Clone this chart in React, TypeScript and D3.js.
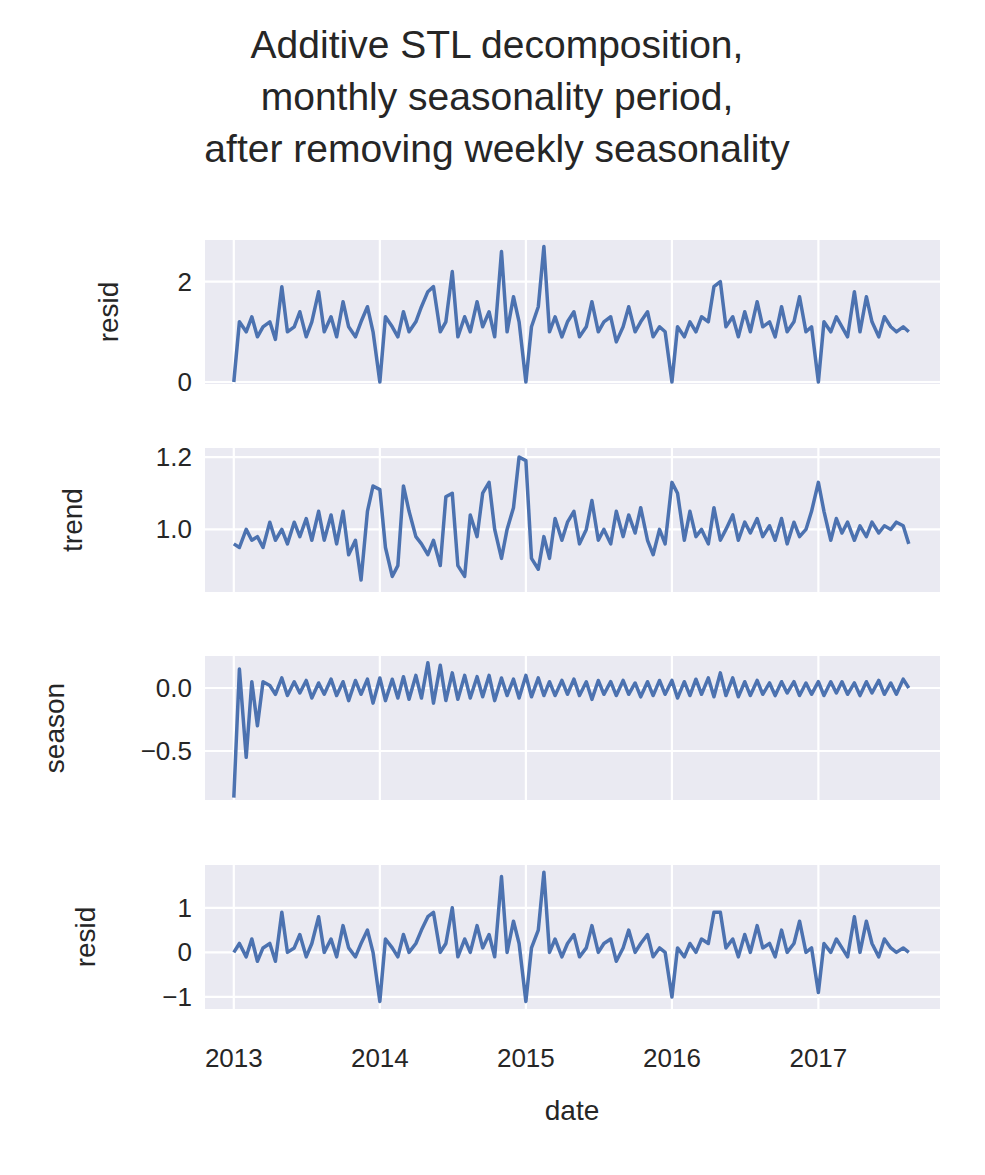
import * as d3 from 'd3';

// semi-monthly sample dates (1st and 15th) from 2013-01 to 2017-08
const dates: Date[] = d3.timeMonth
  .range(new Date(2013, 0, 1), new Date(2017, 8, 1))
  .flatMap((m) => [m, new Date(m.getFullYear(), m.getMonth(), 15)]);

const resid1 = [
  0.0, 1.2, 1.0, 1.3, 0.9, 1.1, 1.2, 0.85, 1.9, 1.0, 1.1, 1.4, 0.9, 1.2, 1.8, 1.0, 1.3, 0.9, 1.6, 1.1, 0.9, 1.2, 1.5, 1.0,
  0.0, 1.3, 1.1, 0.9, 1.4, 1.0, 1.2, 1.5, 1.8, 1.9, 1.0, 1.2, 2.2, 0.9, 1.3, 1.0, 1.6, 1.1, 1.4, 0.9, 2.6, 1.0, 1.7, 1.2,
  0.0, 1.1, 1.5, 2.7, 1.0, 1.3, 0.9, 1.2, 1.4, 0.9, 1.1, 1.6, 1.0, 1.2, 1.3, 0.8, 1.1, 1.5, 1.0, 1.2, 1.4, 0.9, 1.1, 1.0,
  0.0, 1.1, 0.9, 1.2, 1.0, 1.3, 1.2, 1.9, 2.0, 1.1, 1.3, 0.9, 1.4, 1.0, 1.6, 1.1, 1.2, 0.9, 1.5, 1.0, 1.2, 1.7, 1.0, 1.1,
  0.0, 1.2, 1.0, 1.3, 1.1, 0.9, 1.8, 1.0, 1.7, 1.2, 0.9, 1.3, 1.1, 1.0, 1.1, 1.0,
];
const trend = [
  0.96, 0.95, 1.0, 0.97, 0.98, 0.95, 1.02, 0.97, 1.0, 0.96, 1.02, 0.98, 1.03, 0.97, 1.05, 0.97, 1.04, 0.96, 1.05, 0.93, 0.97, 0.86, 1.05, 1.12,
  1.11, 0.95, 0.87, 0.9, 1.12, 1.05, 0.98, 0.96, 0.93, 0.97, 0.9, 1.09, 1.1, 0.9, 0.87, 1.04, 0.98, 1.1, 1.13, 1.0, 0.92, 1.0, 1.06, 1.2,
  1.19, 0.92, 0.89, 0.98, 0.92, 1.03, 0.97, 1.02, 1.05, 0.96, 1.0, 1.08, 0.97, 1.0, 0.96, 1.05, 0.98, 1.04, 0.99, 1.06, 0.97, 0.93, 1.0, 0.96,
  1.13, 1.1, 0.97, 1.05, 0.98, 1.0, 0.96, 1.06, 0.97, 1.0, 1.04, 0.97, 1.02, 0.99, 1.03, 0.98, 1.01, 0.97, 1.03, 0.96, 1.02, 0.98, 1.0, 1.05,
  1.13, 1.05, 0.97, 1.03, 0.99, 1.02, 0.97, 1.01, 0.98, 1.02, 0.99, 1.01, 1.0, 1.02, 1.01, 0.96,
];
const season = [
  -0.87, 0.15, -0.55, 0.05, -0.3, 0.05, 0.02, -0.05, 0.08, -0.06, 0.05, -0.04, 0.06, -0.08, 0.04, -0.05, 0.07, -0.06, 0.05, -0.1, 0.06, -0.05, 0.07, -0.12,
  0.08, -0.1, 0.07, -0.08, 0.09, -0.09, 0.1, -0.08, 0.2, -0.12, 0.18, -0.1, 0.12, -0.09, 0.1, -0.08, 0.09, -0.07, 0.1, -0.1, 0.08, -0.06, 0.07, -0.08,
  0.1, -0.07, 0.08, -0.06, 0.05, -0.06, 0.06, -0.05, 0.07, -0.06, 0.05, -0.09, 0.06, -0.05, 0.05, -0.06, 0.06, -0.05, 0.04, -0.07, 0.05, -0.06, 0.06, -0.05,
  0.06, -0.08, 0.05, -0.06, 0.07, -0.05, 0.08, -0.07, 0.12, -0.06, 0.08, -0.07, 0.05, -0.06, 0.06, -0.05, 0.04, -0.06, 0.05, -0.04, 0.05, -0.06, 0.04, -0.05,
  0.05, -0.06, 0.05, -0.04, 0.05, -0.05, 0.04, -0.06, 0.05, -0.04, 0.06, -0.05, 0.04, -0.05, 0.07, 0.0,
];
const resid2 = [
  0.0, 0.2, -0.1, 0.3, -0.2, 0.1, 0.2, -0.2, 0.9, 0.0, 0.1, 0.4, -0.1, 0.2, 0.8, 0.0, 0.3, -0.1, 0.6, 0.1, -0.1, 0.2, 0.5, 0.0,
  -1.1, 0.3, 0.1, -0.1, 0.4, 0.0, 0.2, 0.5, 0.8, 0.9, 0.0, 0.2, 1.0, -0.1, 0.3, 0.0, 0.6, 0.1, 0.4, -0.1, 1.7, 0.0, 0.7, 0.2,
  -1.1, 0.1, 0.5, 1.8, 0.0, 0.3, -0.1, 0.2, 0.4, -0.1, 0.1, 0.6, 0.0, 0.2, 0.3, -0.2, 0.1, 0.5, 0.0, 0.2, 0.4, -0.1, 0.1, 0.0,
  -1.0, 0.1, -0.1, 0.2, 0.0, 0.3, 0.2, 0.9, 0.9, 0.1, 0.3, -0.1, 0.4, 0.0, 0.6, 0.1, 0.2, -0.1, 0.5, 0.0, 0.2, 0.7, 0.0, 0.1,
  -0.9, 0.2, 0.0, 0.3, 0.1, -0.1, 0.8, 0.0, 0.7, 0.2, -0.1, 0.3, 0.1, 0.0, 0.1, 0.0,
];

const yearTicks = [2013, 2014, 2015, 2016, 2017];

const panels = [
  { label: 'resid', values: resid1, top: 240, domain: [-0.04, 2.83], ticks: [0, 2], fmt: '.0f', labelX: 118 },
  { label: 'trend', values: trend, top: 448, domain: [0.827, 1.225], ticks: [1.0, 1.2], fmt: '.1f', labelX: 82 },
  { label: 'season', values: season, top: 656, domain: [-0.889, 0.254], ticks: [-0.5, 0.0], fmt: '.1f', labelX: 64 },
  { label: 'resid', values: resid2, top: 865, domain: [-1.27, 1.96], ticks: [-1, 0, 1], fmt: '.0f', labelX: 95 },
];

const W = 985;
const H = 1175;
const left = 205;
const right = 940;
const ph = 144;
const font = '"Liberation Sans", Arial, sans-serif';
const ink = '#262626';

export default function App() {
  const x = d3.scaleTime().domain([new Date(2012, 9, 21), new Date(2017, 10, 1)]).range([left, right]);

  return (
    <svg width={W} height={H} style={{ display: 'block', margin: -8 }} fontFamily={font}>
      <rect width={W} height={H} fill="white" />
      {['Additive STL decomposition,', 'monthly seasonality period,', 'after removing weekly seasonality'].map((t, i) => (
        <text key={i} x={497} y={58 + i * 52} textAnchor="middle" fontSize={39} fill={ink}>{t}</text>
      ))}
      {panels.map((p, pi) => {
        const y = d3.scaleLinear().domain(p.domain).range([p.top + ph, p.top]);
        const line = d3
          .line<number>()
          .x((_, i) => x(dates[i]))
          .y((v) => y(v));
        const f = d3.format(p.fmt);
        return (
          <g key={pi}>
            <rect x={left} y={p.top} width={right - left} height={ph} fill="#eaeaf2" />
            {yearTicks.map((yr) => (
              <line key={yr} x1={x(new Date(yr, 0, 1))} x2={x(new Date(yr, 0, 1))} y1={p.top} y2={p.top + ph} stroke="white" strokeWidth={2.2} />
            ))}
            {p.ticks.map((t) => (
              <g key={t}>
                <line x1={left} x2={right} y1={y(t)} y2={y(t)} stroke="white" strokeWidth={2.2} />
                <text x={192} y={y(t) + 9} textAnchor="end" fontSize={26} fill={ink}>
                  {f(t).replace('-', '\u2212')}
                </text>
              </g>
            ))}
            <path d={line(p.values) ?? ''} fill="none" stroke="#4c72b0" strokeWidth={3.5} strokeLinejoin="round" />
            <text transform={`translate(${p.labelX},${p.top + ph / 2}) rotate(-90)`} textAnchor="middle" fontSize={28} fill={ink}>
              {p.label}
            </text>
          </g>
        );
      })}
      {yearTicks.map((yr) => (
        <text key={yr} x={x(new Date(yr, 0, 1))} y={1067} textAnchor="middle" fontSize={26} fill={ink}>{yr}</text>
      ))}
      <text x={572} y={1120} textAnchor="middle" fontSize={28} fill={ink}>date</text>
    </svg>
  );
}
